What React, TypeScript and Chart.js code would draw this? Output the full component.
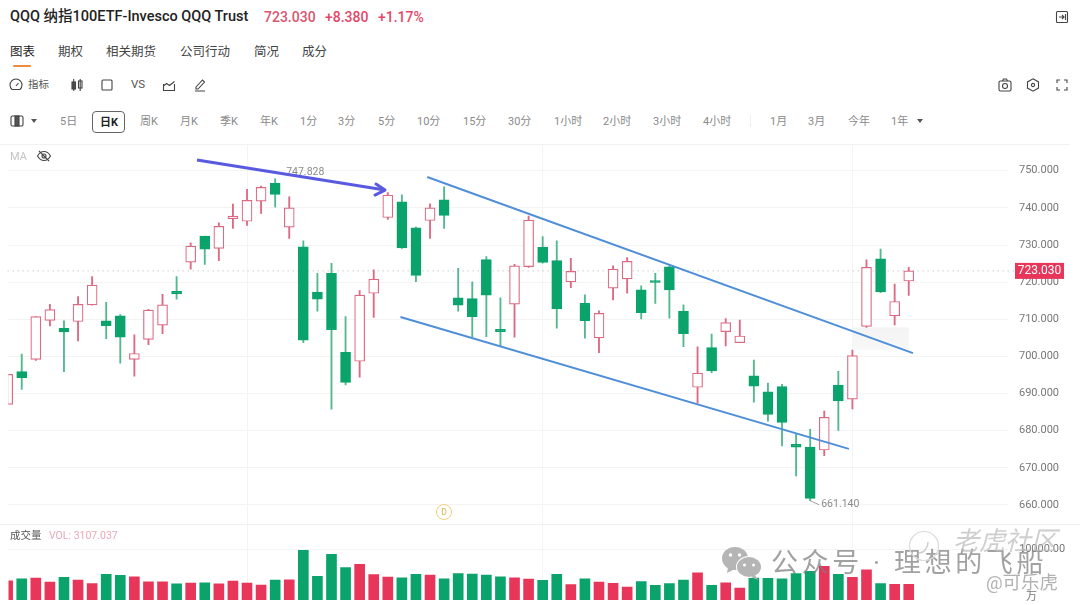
import React, { useEffect, useRef } from 'react';
import { Chart, registerables } from 'chart.js';

Chart.register(...registerables);

const FONT = "Roboto, 'Noto Sans CJK SC', sans-serif";
const RED = '#e8365a';
const RED_LINE = '#dc6a82';
const GREEN = '#0aa36b';
const GREEN_WICK = '#52b88f';
const GRID = '#f4f4f4';

// daily candles
const opens = [
  687.1, 695.9, 699.2, 709.7, 707.6, 709.4, 713.9, 709.6, 710.9, 699.2, 704.6, 708.4, 717.5,
  725.4, 732.4, 729.1, 737.1, 736.4, 741.8, 746.6, 734.8, 729.5, 717.3, 722.4, 701.1, 698.7,
  717.0, 737.4, 741.6, 734.6, 736.6, 742.2, 715.8, 715.6, 726.1, 707.3, 714.1, 724.2, 729.4,
  725.8, 720.1, 714.3, 705.0, 718.4, 720.9, 717.9, 720.4, 724.1, 712.2, 691.7, 702.4, 706.7,
  703.7, 694.8, 690.5, 691.9, 676.3, 675.6, 674.8, 692.3, 688.5, 708.1, 726.3, 710.9, 720.3,
];
const highs = [
  695.2, 700.6, 710.7, 714.0, 709.6, 716.1, 721.5, 714.6, 711.3, 705.8, 712.7, 716.7, 721.5,
  730.6, 732.4, 736.0, 741.0, 745.0, 745.9, 747.828, 743.0, 731.1, 722.4, 725.1, 710.7, 717.7,
  723.3, 744.1, 743.5, 734.8, 741.1, 745.7, 723.7, 720.1, 726.9, 715.8, 724.8, 737.8, 732.3,
  731.1, 726.4, 716.6, 712.3, 724.4, 726.6, 719.0, 722.4, 724.4, 713.9, 702.6, 706.0, 710.2,
  709.8, 699.0, 692.8, 692.5, 679.1, 680.4, 685.3, 696.0, 701.7, 726.0, 728.9, 719.5, 724.0,
];
const lows = [
  687.1, 691.1, 698.9, 708.2, 695.9, 704.2, 713.8, 704.8, 698.2, 694.7, 703.2, 706.1, 715.4,
  723.5, 724.8, 725.8, 734.5, 735.3, 738.5, 740.2, 731.8, 703.7, 712.2, 685.8, 692.3, 694.4,
  710.5, 736.9, 729.1, 720.1, 731.8, 734.5, 712.2, 705.2, 705.3, 702.8, 705.2, 724.0, 725.1,
  707.6, 718.5, 704.9, 701.0, 715.2, 717.0, 710.1, 714.3, 710.3, 702.6, 687.4, 695.6, 702.8,
  703.7, 687.7, 682.6, 675.9, 667.8, 661.14, 673.3, 680.1, 685.9, 707.8, 717.2, 708.5, 716.4,
];
const closes = [
  695.2, 694.3, 710.7, 712.6, 706.6, 714.0, 719.2, 708.3, 705.2, 700.8, 712.5, 713.9, 716.8,
  729.7, 728.9, 735.0, 737.8, 742.0, 745.5, 743.6, 740.0, 704.4, 715.4, 707.2, 693.0, 716.5,
  720.8, 743.4, 729.2, 721.8, 740.0, 738.0, 713.8, 710.7, 716.5, 706.7, 724.4, 736.7, 725.3,
  712.8, 722.9, 709.6, 711.6, 723.5, 725.6, 711.8, 719.9, 717.9, 706.1, 695.5, 696.1, 709.1,
  705.5, 692.0, 684.4, 682.2, 675.6, 661.8, 683.6, 688.0, 700.2, 724.0, 717.4, 714.8, 723.03,
];
const volumes = [
  3808, 4208, 4342, 3540, 4476, 3941, 3273, 5077, 4876, 4609, 3607, 3607, 3206,
  3340, 3407, 3206, 3741, 3340, 2939, 3941, 4008, 9820, 4676, 9018, 6413, 7081,
  5010, 4542, 4409, 5077, 4943, 4208, 5210, 5144, 4943, 4609, 4409, 4142, 3874,
  5085, 3051, 4204, 3526, 3322, 2576, 3661, 2915, 3254, 3932, 5356, 2915, 3390,
  2373, 4339, 4271, 4204, 5221, 5695, 6644, 5085, 4475, 5966, 3254, 3119, 3107,
];

const priceTicks = [660, 670, 680, 690, 700, 710, 720, 730, 740, 750];
const volumeTicks = [10000];
const gridCandles = [17, 38, 60];

const lastPrice = 723.03;
const highLabel = '747.828';
const lowLabel = '661.140';

// drawn on the chart: [candle index, price]
const upperChannel = [{ x: 29.8, y: 748.3 }, { x: 64.3, y: 700.9 }];
const lowerChannel = [{ x: 27.9, y: 710.6 }, { x: 59.75, y: 675.1 }];
const arrowLine = [{ x: 13.45, y: 752.9 }, { x: 26.8, y: 744.8 }];
const lastPriceLine = [{ x: 0, y: lastPrice }, { x: 71.5, y: lastPrice }];

const tabs = [['图表', 10], ['期权', 58], ['相关期货', 106], ['公司行动', 180], ['简况', 254], ['成分', 302]] as const;
const periods = [
  ['5日', 60], ['周K', 140], ['月K', 180], ['季K', 220], ['年K', 260], ['1分', 300], ['3分', 338],
  ['5分', 378], ['10分', 417], ['15分', 463], ['30分', 508], ['1小时', 554], ['2小时', 603],
  ['3小时', 653], ['4小时', 703], ['1月', 770], ['3月', 808], ['今年', 848], ['1年', 891],
] as const;

const X_MIN = 0.06;
const X_MAX = 71.05;
const isUp = (i: number) => closes[i] >= opens[i];

const xScale = {
  type: 'linear' as const,
  min: X_MIN,
  max: X_MAX,
  offset: false,
  afterBuildTicks: (axis: any) => {
    axis.ticks = gridCandles.map((value) => ({ value }));
  },
  ticks: { display: false },
  grid: { color: GRID, drawTicks: false, offset: false },
  border: { display: false },
};

const rightAxis = (ticks: number[], format: (v: number) => string, min: number, max: number) => ({
  type: 'linear' as const,
  position: 'right' as const,
  min,
  max,
  afterBuildTicks: (axis: any) => {
    axis.ticks = ticks.map((value) => ({ value }));
  },
  afterFit: (axis: any) => {
    // keep the plot filling the canvas, labels can hang over
    axis.width = 72;
    axis.paddingTop = 0;
    axis.paddingBottom = 0;
  },
  ticks: {
    padding: 11,
    color: '#777',
    font: { family: FONT, size: 11 },
    callback: (v: any) => format(Number(v)),
  },
  grid: { color: GRID, drawTicks: false },
  border: { display: false },
});

const annotations = {
  id: 'annotations',
  beforeDatasetsDraw(chart: any) {
    const { ctx, scales } = chart;
    const x = scales.x;
    const y = scales.y;
    ctx.save();
    // faint highlight where the price left the channel
    const left = x.getPixelForValue(60);
    const right = x.getPixelForValue(64);
    const top = y.getPixelForValue(707.8);
    const bottom = y.getPixelForValue(701.8);
    const fade = ctx.createLinearGradient(0, top, 0, bottom);
    fade.addColorStop(0, '#f3f3f3');
    fade.addColorStop(1, '#f8f8f8');
    ctx.fillStyle = fade;
    ctx.fillRect(left, top, right - left, bottom - top);

    ctx.font = `10.5px ${FONT}`;
    ctx.fillStyle = '#8a8a8a';
    ctx.textBaseline = 'middle';
    ctx.textAlign = 'left';
    ctx.fillText(highLabel, x.getPixelForValue(19) + 11, y.getPixelForValue(747.828) - 6);
    const lowX = x.getPixelForValue(57);
    const lowY = y.getPixelForValue(661.14);
    ctx.fillText(lowLabel, lowX + 11, lowY + 4);
    ctx.strokeStyle = '#8a8a8a';
    ctx.lineWidth = 0.8;
    ctx.beginPath();
    ctx.moveTo(lowX, lowY);
    ctx.lineTo(lowX + 9, lowY + 4);
    ctx.stroke();
    ctx.restore();
  },
  afterDatasetsDraw(chart: any) {
    const { ctx, scales } = chart;
    const x = scales.x;
    const y = scales.y;
    ctx.save();
    // arrow head
    const tipX = x.getPixelForValue(arrowLine[1].x);
    const tipY = y.getPixelForValue(arrowLine[1].y);
    ctx.strokeStyle = '#5a5ae0';
    ctx.lineWidth = 3;
    ctx.lineCap = 'round';
    ctx.lineJoin = 'round';
    ctx.beginPath();
    ctx.moveTo(tipX - 9, tipY - 6);
    ctx.lineTo(tipX, tipY);
    ctx.lineTo(tipX - 10, tipY + 5);
    ctx.stroke();

    // last price tag
    const tagY = y.getPixelForValue(lastPrice);
    ctx.fillStyle = RED;
    ctx.fillRect(1015, tagY - 8, 49, 16);
    ctx.fillStyle = '#fff';
    ctx.font = `12px ${FONT}`;
    ctx.textAlign = 'center';
    ctx.textBaseline = 'middle';
    ctx.fillText(lastPrice.toFixed(3), 1039.5, tagY + 0.5);
    ctx.restore();
  },
};

function PriceChart() {
  const ref = useRef<HTMLCanvasElement | null>(null);
  useEffect(() => {
    if (!ref.current) return;
    const candles = opens.map((_, i) => i);
    const chart = new Chart(ref.current, {
      type: 'bar',
      data: {
        datasets: [
          {
            type: 'line',
            data: lastPriceLine,
            borderColor: '#b5b5b5',
            borderWidth: 1,
            borderDash: [1, 4],
            pointRadius: 0,
            clip: false,
            order: 5,
          },
          {
            data: candles.map((i) => ({ x: i, y: [lows[i], highs[i]] })),
            backgroundColor: candles.map((i) => (isUp(i) ? RED_LINE : GREEN_WICK)),
            barThickness: 1.2,
            borderSkipped: false,
            order: 4,
          },
          {
            data: candles.map((i) => ({ x: i, y: [opens[i], closes[i]] })),
            backgroundColor: candles.map((i) => (isUp(i) ? '#ffffff' : GREEN)),
            borderColor: candles.map((i) => (isUp(i) ? RED_LINE : GREEN)),
            borderWidth: 1.2,
            borderSkipped: false,
            barThickness: 10,
            order: 3,
          },
          {
            type: 'line',
            data: upperChannel,
            borderColor: '#4f8fd8',
            borderWidth: 2,
            pointRadius: 0,
            order: 2,
          },
          {
            type: 'line',
            data: lowerChannel,
            borderColor: '#4f8fd8',
            borderWidth: 2,
            pointRadius: 0,
            order: 2,
          },
          {
            type: 'line',
            data: arrowLine,
            borderColor: '#5a5ae0',
            borderWidth: 3,
            pointRadius: 0,
            order: 1,
          },
        ] as any,
      },
      options: {
        responsive: false,
        animation: false,
        layout: { padding: { left: 8.5 } },
        datasets: { bar: { grouped: false } },
        plugins: { legend: { display: false }, tooltip: { enabled: false } },
        scales: {
          x: xScale,
          y: rightAxis(priceTicks, (v) => v.toFixed(3), 654.88, 756.93),
        },
      } as any,
      plugins: [annotations],
    });
    return () => chart.destroy();
  }, []);
  return <canvas ref={ref} width={1080} height={379} style={{ position: 'absolute', left: 0, top: 145 }} />;
}

function VolumeChart() {
  const ref = useRef<HTMLCanvasElement | null>(null);
  useEffect(() => {
    if (!ref.current) return;
    const chart = new Chart(ref.current, {
      type: 'bar',
      data: {
        datasets: [
          {
            data: volumes.map((v, i) => ({ x: i, y: v })),
            backgroundColor: volumes.map((_, i) => (isUp(i) ? RED : GREEN)),
            barThickness: 10,
          },
        ],
      },
      options: {
        responsive: false,
        animation: false,
        layout: { padding: { left: 8.5 } },
        plugins: { legend: { display: false }, tooltip: { enabled: false } },
        scales: {
          x: xScale,
          y: rightAxis(volumeTicks, (v) => v.toFixed(2), 0, 14850),
        },
      } as any,
    });
    return () => chart.destroy();
  }, []);
  return <canvas ref={ref} width={1080} height={75} style={{ position: 'absolute', left: 0, top: 525 }} />;
}

function Txt(props: { x: number; y: number; size: number; color: string; weight?: number; children: React.ReactNode; style?: React.CSSProperties }) {
  return (
    <span
      style={{
        position: 'absolute',
        left: props.x,
        top: props.y,
        transform: 'translateY(-50%)',
        fontSize: props.size,
        color: props.color,
        fontWeight: props.weight ?? 400,
        lineHeight: 1,
        whiteSpace: 'nowrap',
        ...props.style,
      }}
    >
      {props.children}
    </span>
  );
}

function Icon(props: { x: number; y: number; size?: number; children: React.ReactNode }) {
  const size = props.size ?? 16;
  return (
    <svg
      width={size}
      height={size}
      viewBox="0 0 16 16"
      fill="none"
      stroke="#444"
      strokeWidth={1.1}
      style={{ position: 'absolute', left: props.x - size / 2, top: props.y - size / 2 }}
    >
      {props.children}
    </svg>
  );
}

function Toolbar() {
  return (
    <>
      <Txt x={10} y={17} size={14.5} color="#222" weight={500}>QQQ 纳指100ETF-Invesco QQQ Trust</Txt>
      <Txt x={264} y={17} size={14} color="#d9566f" weight={500}>723.030</Txt>
      <Txt x={325} y={17} size={14} color="#e2476a" weight={500}>+8.380</Txt>
      <Txt x={378} y={17} size={14} color="#e2476a" weight={500}>+1.17%</Txt>
      <Icon x={1062} y={17}>
        <rect x="2.5" y="2.5" width="11" height="11" rx="1" />
        <path d="M5 8h5M8 6l2 2-2 2M11.5 5v6" />
      </Icon>

      {tabs.map(([label, x]) => (
        <Txt key={label} x={x} y={52} size={12.5} color={label === '图表' ? '#222' : '#444'}>{label}</Txt>
      ))}
      <div style={{ position: 'absolute', left: 13, top: 65, width: 18, height: 2, background: '#f08a3c', borderRadius: 1 }} />

      <Icon x={16} y={85}>
        <path d="M4 12.5a6 6 0 1 1 8 0z" />
        <path d="M8 9l2.5-3" />
      </Icon>
      <Txt x={28} y={85} size={10.5} color="#555">指标</Txt>
      <Icon x={77} y={85}>
        <rect x="3" y="5" width="3.5" height="7" fill="#555" />
        <rect x="9.5" y="4" width="3.5" height="7" />
        <path d="M4.7 2v12M11.2 2v12" />
      </Icon>
      <Icon x={107} y={85}>
        <rect x="3" y="3" width="10" height="10" rx="1" />
      </Icon>
      <Txt x={131} y={85} size={11.5} color="#555">VS</Txt>
      <Icon x={169} y={85}>
        <path d="M2.5 7v6.5h11V7M2.5 9l3-2.5 3 2 5-4" />
      </Icon>
      <Icon x={200} y={85}>
        <path d="M4 10l6.5-7 2 2-6.5 7H4zM3 14h10" />
      </Icon>
      <Icon x={1005} y={85}>
        <rect x="2" y="4" width="12" height="10" rx="1.5" />
        <circle cx="8" cy="9" r="2.5" />
        <path d="M5.5 4l1-2h3l1 2" />
      </Icon>
      <Icon x={1033} y={85}>
        <path d="M8 1.8l5.5 3.1v6.2L8 14.2l-5.5-3.1V4.9z" />
        <circle cx="8" cy="8" r="1.6" />
      </Icon>
      <Icon x={1062} y={85}>
        <path d="M3 6V3h3M13 6V3h-3M3 10v3h3M13 10v3h-3" />
      </Icon>

      <Icon x={17} y={121}>
        <rect x="2" y="3" width="12" height="10" rx="1.5" />
        <rect x="6" y="3" width="4" height="10" fill="#555" />
      </Icon>
      <div style={{ position: 'absolute', left: 31, top: 119, width: 0, height: 0, borderLeft: '3.5px solid transparent', borderRight: '3.5px solid transparent', borderTop: '4px solid #555' }} />
      {periods.map(([label, x]) => (
        <Txt key={label} x={x} y={121} size={11} color="#8a8a8a">{label}</Txt>
      ))}
      <div style={{ position: 'absolute', left: 92, top: 111, width: 31, height: 20, border: '1px solid #666', borderRadius: 4 }} />
      <Txt x={100} y={121.5} size={11} color="#222" weight={700}>日K</Txt>
      <div style={{ position: 'absolute', left: 750, top: 115, width: 1, height: 12, background: '#eee' }} />
      <div style={{ position: 'absolute', left: 917, top: 119, width: 0, height: 0, borderLeft: '3.5px solid transparent', borderRight: '3.5px solid transparent', borderTop: '4px solid #555' }} />
      <div style={{ position: 'absolute', left: 0, top: 144, width: 1070, height: 1, background: '#f1f1f1' }} />
    </>
  );
}

function Watermark() {
  return (
    <>
      <svg width={50} height={44} viewBox="0 0 50 44" style={{ position: 'absolute', left: 722, top: 542 }}>
        <ellipse cx="13" cy="16.5" rx="13" ry="11.5" fill="#b5b5b5" />
        <path d="M6 25l-1 6 7-3.5z" fill="#b5b5b5" />
        <circle cx="8.5" cy="13" r="1.7" fill="#fff" />
        <circle cx="17.5" cy="13" r="1.7" fill="#fff" />
        <ellipse cx="27" cy="25" rx="13" ry="11" fill="#fff" />
        <ellipse cx="27" cy="25" rx="12" ry="10" fill="#b5b5b5" />
        <path d="M33 33l3 5-7-3z" fill="#b5b5b5" />
        <circle cx="22.5" cy="23" r="1.5" fill="#fff" />
        <circle cx="31.5" cy="23" r="1.5" fill="#fff" />
      </svg>
      <Txt x={771} y={563} size={27} color="rgba(125,125,125,0.72)" style={{ letterSpacing: 3.6 }}>公众号 · 理想的飞船</Txt>
      <svg width={32} height={32} viewBox="0 0 32 32" style={{ position: 'absolute', left: 908, top: 530 }}>
        <circle cx="16" cy="16" r="14.5" fill="none" stroke="#dcdcdc" strokeWidth={1.2} />
        <path d="M11 23c5 0 9-5 9-11" fill="none" stroke="#cfcfcf" strokeWidth={1.5} />
      </svg>
      <Txt x={953} y={541} size={26} color="rgba(190,190,190,0.75)" style={{ fontStyle: 'italic' }}>老虎社区</Txt>
      <Txt x={986} y={583} size={18.5} color="rgba(165,165,165,0.85)">@可乐虎</Txt>
    </>
  );
}

export default function App() {
  return (
    <div style={{ position: 'absolute', left: 0, top: 0, width: 1080, height: 605, overflow: 'hidden', background: '#fff', fontFamily: FONT }}>
      <Toolbar />
      <PriceChart />
      <VolumeChart />
      <div style={{ position: 'absolute', left: 0, top: 524, width: 1080, height: 1, background: '#efefef' }} />

      <Txt x={10} y={156} size={11} color="#c4c4c4">MA</Txt>
      <Icon x={44} y={156}>
        <path d="M1.5 8s2.5-4.5 6.5-4.5S14.5 8 14.5 8s-2.5 4.5-6.5 4.5S1.5 8 1.5 8z" />
        <circle cx="8" cy="8" r="2" />
        <path d="M3 3l10 10" />
      </Icon>

      <div style={{ position: 'absolute', left: 436, top: 504, width: 14, height: 14, borderRadius: '50%', border: '1px solid #f0cf7a', color: '#d9b04a', fontSize: 8.5, lineHeight: '14px', textAlign: 'center' }}>D</div>

      <Txt x={10} y={536} size={10.5} color="#555">成交量</Txt>
      <Txt x={49} y={536} size={10.5} color="#e9a9b8">VOL: 3107.037</Txt>
      <Txt x={1026} y={596} size={11} color="#777">万</Txt>
      <Watermark />
    </div>
  );
}
